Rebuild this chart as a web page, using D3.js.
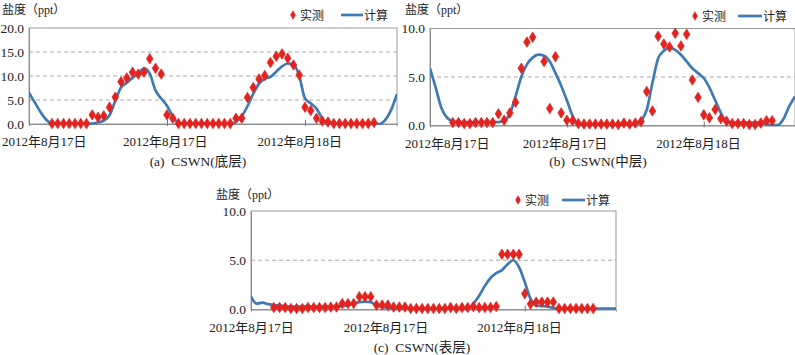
<!DOCTYPE html>
<html><head><meta charset="utf-8">
<script src="https://cdn.jsdelivr.net/npm/d3@7"></script>
<style>
body{margin:0;background:#fff;}
text{font-family:"Liberation Serif","Times New Roman","Noto Sans CJK SC",serif;fill:#222;}
.cjk{font-family:"Liberation Serif","Noto Sans CJK SC",serif;}
</style>
</head><body>
<svg id="chart" width="795" height="355"></svg>
<script>
// ---------- data ----------
const calcHours = d3.range(0, 65);          // hourly computed series
const obsHours = d3.range(4, 61);           // hourly observations
const xTickMarks = [24, 48];
const xLabelHours = [0, 23.6, 47];
const xLabels = ["2012年8月17日", "2012年8月17日", "2012年8月18日"];
const yTicksA = [0, 5, 10, 15, 20];
const yTicksB = [0, 5, 10];
const yTicksC = [0, 5, 10];
const gridA = [5, 10, 15];
const gridB = [5];
const gridC = [5];
const seriesNames = ["实测", "计算"];
const yTitle = "盐度（ppt）";
const captions = ["(a)  CSWN(底层)", "(b)  CSWN(中层)", "(c)  CSWN(表层)"];

const calcA = [6.5,4.5,2.5,0.9,0.1, 0,0,0,0,0,0,
  0.1,0.3,0.7,1.8,4.8,7.6,8.6,9.6,10.5,11.6,10.5,7.0,5.3,3.8,1.6,0.2,
  0,0,0,0,0,0,0,0,0,
  0.5,1.6,3.7,6.3,8.4,9.4,9.8,10.9,12.0,12.6,12.4,10.0,5.3,4.3,3.2,1.2,0.1,
  0,0,0,0,0,0,0,0,0,
  0.9,3.0,6.2];
const obsA = [0.1,0.1,0.1,0.1,0.1,0.1,0.1,
  1.9,1.4,1.7,3.5,5.6,8.8,9.6,10.8,10.4,10.8,13.6,11.6,10.4,1.9,1.2,
  0.1,0.1,0.1,0.1,0.1,0.1,0.1,0.1,0.1,0.1,
  1.2,1.2,5.5,7.6,9.4,10.1,12.8,14.1,14.6,13.7,12.3,10.2,3.5,2.8,1.2,0.6,0.4,
  0.1,0.1,0.1,0.1,0.1,0.1,0.1,
  0.3];

const calcB = [5.9,3.9,1.8,0.8,0.45, 0.35,0.35,0.35,0.35,0.35,0.35,0.35,0.35,
  0.5,1.2,3.0,5.0,6.3,7.0,7.3,7.2,6.6,5.4,4.1,2.6,1.0,0.15,
  0.1,0.1,0.1,0.1,0.1,0.1,0.1,0.1,0.1,0.1,
  0.5,1.6,4.4,6.9,7.7,8.0,7.8,7.3,6.6,5.9,5.4,4.9,3.9,2.6,1.3,0.4,
  0.3,0.3,0.3,0.3,0.3,0.3,
  0.15,0.05,0.05,0.7,2.0,3.0];
const obsB = [0.3,0.3,0.2,0.2,0.3,0.3,0.3,0.3,
  1.2,0.55,1.3,2.4,5.9,8.6,9.1,null,6.6,1.75,7.1,1.3,0.55,0.5,0.2,
  0.15,0.15,0.15,0.15,0.15,0.15,0.1,0.25,0.15,0.25,
  0.4,3.5,1.5,9.2,8.4,8.1,9.5,8.2,9.4,4.7,2.9,1.1,0.8,1.65,0.7,0.45,
  0.2,0.2,0.2,0.1,0.1,0.25,0.5,0.5];

const calcC = [1.3,0.6,0.7,0.55,0.45,0.4,0.35,
  0.3,0.3,0.3,0.3,0.3,0.3,0.3,0.3,0.3,
  0.35,0.45,0.6,0.75,0.8,0.75,0.4,0.25,0.15,
  0.1,0.1,0.1,0.1,0.1,0.1,0.1,0.1,0.1,0.1,0.1,0.1,0.1,0.1,
  0.6,1.4,2.4,3.2,3.7,4.0,4.6,5.0,4.3,2.8,1.1,0.4,0.35,0.3,0.15,
  0.1,0.1,0.1,0.1,0.1,0.1,0.1,0.1,0.1,0.1,0.1];
const obsC = [0.2,0.2,0.2,0.1,0.1,0.1,0.2,0.2,0.2,0.2,0.25,0.25,
  0.6,0.6,0.6,1.3,1.3,1.3,0.45,0.45,0.45,0.25,0.25,0.25,
  0.1,0.1,0.1,0.1,0.1,0.1,0.1,0.2,0.1,0.2,0.2,0.3,0.2,0.2,0.2,0.3,
  5.6,5.6,5.6,5.6,
  1.6,0.55,0.75,0.75,0.75,0.75,
  0.1,0.1,0.1,0.1,0.1,0.1,0.1];

// ---------- layout ----------
const panels = [
  {calc: calcA, obs: obsA, yMax: 20, yTicks: yTicksA, grid: gridA, caption: captions[0],
   left: 29, right: 397, top: 28, bottom: 124, minLabelX: 2,
   titleX: 2, titleY: 14, legX: 293, legY: 15, legLine: [341, 363], capX: 198, capY: 166},
  {calc: calcB, obs: obsB, yMax: 10, yTicks: yTicksB, grid: gridB, caption: captions[1],
   left: 430, right: 795, top: 28.5, bottom: 125.5, minLabelX: 405,
   titleX: 405, titleY: 14, legX: 695, legY: 16, legLine: [738, 762], capX: 598, capY: 166},
  {calc: calcC, obs: obsC, yMax: 10, yTicks: yTicksC, grid: gridC, caption: captions[2],
   left: 251, right: 616, top: 211, bottom: 309.5, minLabelX: 190,
   titleX: 216, titleY: 199, legX: 518, legY: 200, legLine: [562, 585], capX: 422, capY: 352}
];

const RED = "#e2231f", BLUE = "#3f7ab3", FRAME = "#9a9a9a", GRID = "#a9a9a9";
const svg = d3.select("#chart");

panels.forEach((p, i) => {
  const x = d3.scaleLinear().domain([0, 64]).range([p.left, p.right]);
  const y = d3.scaleLinear().domain([0, p.yMax]).range([p.bottom, p.top]);
  const g = svg.append("g");

  // gridlines
  g.selectAll(".grid").data(p.grid).enter().append("line")
    .attr("x1", p.left).attr("x2", p.right)
    .attr("y1", d => y(d)).attr("y2", d => y(d))
    .attr("stroke", GRID).attr("stroke-width", 1).attr("stroke-dasharray", "4,3");

  // frame
  g.append("rect").attr("x", p.left).attr("y", y(p.yMax))
    .attr("width", p.right - p.left).attr("height", p.bottom - y(p.yMax))
    .attr("fill", "none").attr("stroke", FRAME).attr("stroke-width", 1);

  // y axis labels
  const ya = g.append("g").attr("transform", `translate(${p.left},0)`)
    .call(d3.axisLeft(y).tickValues(p.yTicks).tickFormat(d3.format(".1f")).tickSize(0).tickPadding(5));
  ya.select(".domain").attr("stroke", "#8a8a8a");
  ya.selectAll("text").attr("font-size", 13.5).attr("font-family", "Liberation Serif, serif").attr("fill", "#222");

  // x tick marks
  const xt = g.append("g").attr("transform", `translate(0,${p.bottom})`)
    .call(d3.axisBottom(x).tickValues(xTickMarks).tickFormat("").tickSize(2));
  xt.select(".domain").attr("stroke", "#8a8a8a");
  xt.selectAll(".tick line").attr("y1", -4).attr("y2", 2).attr("stroke", "#777");

  // x labels
  const xl = g.append("g").attr("transform", `translate(0,${p.bottom})`)
    .call(d3.axisBottom(x).tickValues(xLabelHours).tickFormat((d, k) => xLabels[k]).tickSize(0).tickPadding(13));
  xl.select(".domain").remove();
  xl.selectAll("text").attr("font-size", 13).attr("fill", "#222")
    .attr("font-family", "Liberation Serif, Noto Sans CJK SC, serif")
    .each(function() {
      const bb = this.getBBox();
      const tr = d3.select(this.parentNode);
      const tx = +tr.attr("transform").match(/translate\(([-\d.]+)/)[1];
      if (tx + bb.x < p.minLabelX) {
        d3.select(this).attr("x", p.minLabelX - (tx + bb.x));
      }
    });

  // computed line
  const clipId = "clip" + i;
  svg.append("clipPath").attr("id", clipId).append("rect")
    .attr("x", p.left).attr("y", p.top - 5).attr("width", p.right - p.left).attr("height", p.bottom - p.top + 6);
  const line = d3.line().x((d, k) => x(calcHours[k])).y(d => y(d)).curve(d3.curveMonotoneX);
  g.append("path").datum(p.calc).attr("d", line)
    .attr("fill", "none").attr("stroke", BLUE).attr("stroke-width", 2.7)
    .attr("clip-path", `url(#${clipId})`);

  // observed markers
  const sym = d3.symbol().type(d3.symbolDiamond).size(24);
  g.selectAll(".obs").data(p.obs.map((v, k) => ({h: obsHours[k], v})).filter(d => d.v != null))
    .enter().append("path")
    .attr("d", sym)
    .attr("transform", d => `translate(${x(d.h)},${y(d.v)}) scale(1.25,1.15)`)
    .attr("fill", RED).attr("stroke", RED).attr("stroke-width", 0.6).attr("stroke-linejoin", "round");

  // y title
  g.append("text").attr("class", "cjk").attr("x", p.titleX).attr("y", p.titleY)
    .attr("font-size", 12).text(yTitle);

  // legend
  g.append("path").attr("d", d3.symbol().type(d3.symbolDiamond).size(22))
    .attr("transform", `translate(${p.legX},${p.legY}) scale(1.1,1.1)`).attr("fill", RED);
  g.append("text").attr("class", "cjk").attr("x", p.legX + 7).attr("y", p.legY + 4.5)
    .attr("font-size", 12).text(seriesNames[0]);
  g.append("line").attr("x1", p.legLine[0]).attr("x2", p.legLine[1])
    .attr("y1", p.legY).attr("y2", p.legY).attr("stroke", BLUE).attr("stroke-width", 2.7);
  g.append("text").attr("class", "cjk").attr("x", p.legLine[1] + 1).attr("y", p.legY + 4.5)
    .attr("font-size", 12).text(seriesNames[1]);

  // caption
  g.append("text").attr("class", "cjk").attr("x", p.capX).attr("y", p.capY)
    .attr("text-anchor", "middle").attr("font-size", 13.5).attr("xml:space", "preserve")
    .style("white-space", "pre").text(p.caption);
});
</script>
</body></html>
